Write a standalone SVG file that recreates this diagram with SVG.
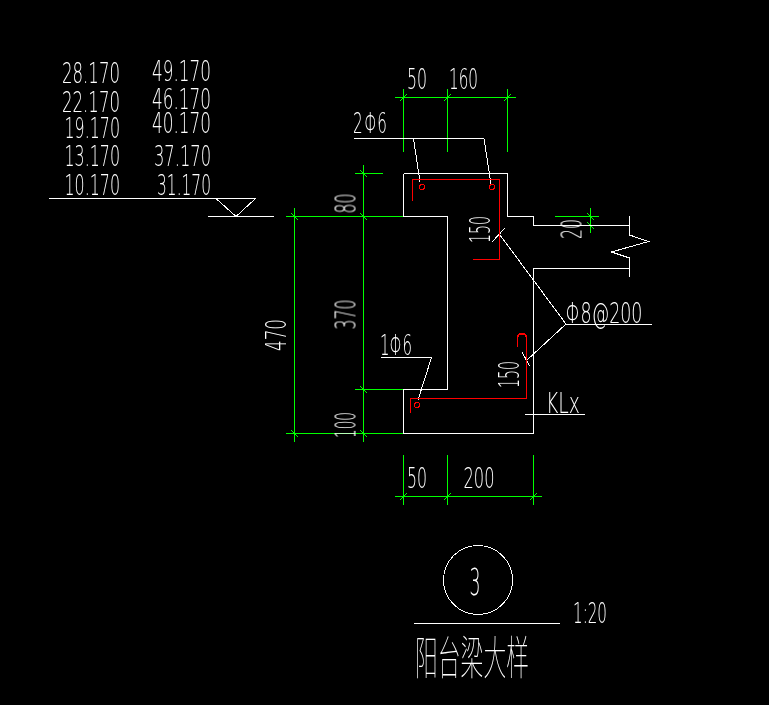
<svg xmlns="http://www.w3.org/2000/svg" width="769" height="705" viewBox="0 0 769 705">
<style>
path,circle{shape-rendering:crispEdges}
.w{fill:none;stroke:#fff;stroke-width:1}
.g{fill:none;stroke:#0f0;stroke-width:1}
.r{fill:none;stroke:#f00;stroke-width:1}
.r2{fill:none;stroke:#f00;stroke-width:1.6}
.t{fill:none;stroke:#0f0;stroke-width:1}
.l{fill:none;stroke:#fff;stroke-width:1}
text{fill:#fff;font-family:"DejaVu Sans","Liberation Sans",sans-serif;font-weight:200;font-size:28px;filter:url(#plain)}
.cjk{font-family:"Noto Sans CJK SC",sans-serif;font-size:46px;font-weight:100}
</style>
<defs>
<filter id="plain" x="-20%" y="-20%" width="140%" height="140%"><feOffset dx="0" dy="0"/></filter>
</defs>
<rect width="769" height="705" fill="#000"/>
<g id="connectors">
<g id="dim-lines">
<path class="g" d="M395 97.5H515.5M403.5 89V152M447.5 89V152M507.5 89V152"/>
<path class="t" d="M400 101L407 94M444 101L451 94M504 101L511 94"/>
<path class="g" d="M355 173.5H382.5M286 216.5H403.5M355 389.5H403.5M286 433.5H403.5M363.5 165V442M294.5 208V442"/>
<path class="t" d="M360 170L367 177M360 213L367 220M291 213L298 220M360 386L367 393M360 430L367 437M291 430L298 437"/>
<path class="g" d="M395 496.5H541.5M403.5 455V505M447.5 455V505M533.5 455V505"/>
<path class="t" d="M400 500L407 493M444 500L451 493M530 500L537 493"/>
<path class="g" d="M555 216.5H599M590.5 208V233"/>
<path class="t" d="M587 213L594 220M587 222L594 229"/>
</g>
<g id="leaders">
<path class="l" d="M354 138.5H484M413.5 138.5L420 182M484 138.5L491 184"/>
<path class="l" d="M381 357.5H431.5L418 400"/>
<path class="l" d="M492 242L505 228M500 235L566 324H651.5M566 324L527 360M522 352L529.5 366"/>
<path class="l" d="M525 414.5H585"/>
</g>
</g>
<g id="level-mark">
<path class="w" d="M49 198.5H255.5L236 216.5L216 198.5M208 216.5H274"/>
<text x="62" y="82.5" textLength="58" lengthAdjust="spacingAndGlyphs">28.170</text>
<text x="62" y="111.5" textLength="58" lengthAdjust="spacingAndGlyphs">22.170</text>
<text x="64.5" y="137.5" textLength="55.5" lengthAdjust="spacingAndGlyphs">19.170</text>
<text x="64.5" y="165.5" textLength="55.5" lengthAdjust="spacingAndGlyphs">13.170</text>
<text x="64.5" y="195" textLength="55.5" lengthAdjust="spacingAndGlyphs">10.170</text>
<text x="152" y="80.5" textLength="59" lengthAdjust="spacingAndGlyphs">49.170</text>
<text x="152" y="109" textLength="59" lengthAdjust="spacingAndGlyphs">46.170</text>
<text x="152" y="133" textLength="59" lengthAdjust="spacingAndGlyphs">40.170</text>
<text x="154" y="165.5" textLength="57" lengthAdjust="spacingAndGlyphs">37.170</text>
<text x="157" y="195" textLength="54" lengthAdjust="spacingAndGlyphs">31.170</text>
</g>
<g id="beam-section">
<path class="w" d="M403.5 173.5H507.5V216.5H533.5V225.5H629.5V235L648.5 241.5L611.5 252L629.5 258V277M629.5 216V225.5M629.5 268.5H533.5V433.5H403.5V389.5H447.5V216.5H403.5V173.5"/>
</g>
<g id="rebar">
<path class="r" d="M412.5 201V179.5H499.5V259.5H473"/>
<circle class="r" cx="422" cy="187" r="2.5"/>
<circle class="r" cx="492" cy="187" r="2.5"/>
<path class="r2" d="M410.5 413V398.5H526.5V338C526.5 332.5 517.5 332.5 517.5 338V347"/>
<circle class="r" cx="417" cy="405" r="2.5"/>
</g>
<g id="dimension-labels">
<text x="407" y="88.5" textLength="20" lengthAdjust="spacingAndGlyphs">50</text>
<text x="449" y="88.5" textLength="29" lengthAdjust="spacingAndGlyphs">160</text>
<text x="407" y="487.5" textLength="20" lengthAdjust="spacingAndGlyphs">50</text>
<text x="463.5" y="487.5" textLength="31" lengthAdjust="spacingAndGlyphs">200</text>
<text transform="translate(355.5 213.5) rotate(-90)" textLength="20" lengthAdjust="spacingAndGlyphs">80</text>
<text transform="translate(355.5 329.5) rotate(-90)" textLength="30" lengthAdjust="spacingAndGlyphs">370</text>
<text transform="translate(355.5 438) rotate(-90)" textLength="26" lengthAdjust="spacingAndGlyphs">100</text>
<text transform="translate(286 351) rotate(-90)" textLength="32" lengthAdjust="spacingAndGlyphs">470</text>
<text transform="translate(490 243) rotate(-90)" textLength="27" lengthAdjust="spacingAndGlyphs">150</text>
<text transform="translate(519 388) rotate(-90)" textLength="27" lengthAdjust="spacingAndGlyphs">150</text>
<text transform="translate(581.5 239) rotate(-90)" textLength="20" lengthAdjust="spacingAndGlyphs">20</text>
</g>
<g id="rebar-labels">
<text x="353" y="132.5" textLength="34" lengthAdjust="spacingAndGlyphs">2<tspan dx="3">Φ6</tspan></text>
<text x="380" y="355" textLength="32" lengthAdjust="spacingAndGlyphs">1Φ6</text>
<text x="565.5" y="323" textLength="77" lengthAdjust="spacingAndGlyphs">Φ8@200</text>
<text x="546" y="413" textLength="34" lengthAdjust="spacingAndGlyphs">KLx</text>
</g>
<g id="title">
<circle class="l" cx="478" cy="580" r="34.5"/>
<text x="469.5" y="594.5" style="font-size:38px" textLength="11" lengthAdjust="spacingAndGlyphs">3</text>
<path class="w" d="M414 623.5H560"/>
<text x="573" y="623" textLength="34" lengthAdjust="spacingAndGlyphs">1:20</text>
<text class="cjk" x="415" y="674" textLength="114" lengthAdjust="spacingAndGlyphs">阳台梁大样</text>
</g>
</svg>
